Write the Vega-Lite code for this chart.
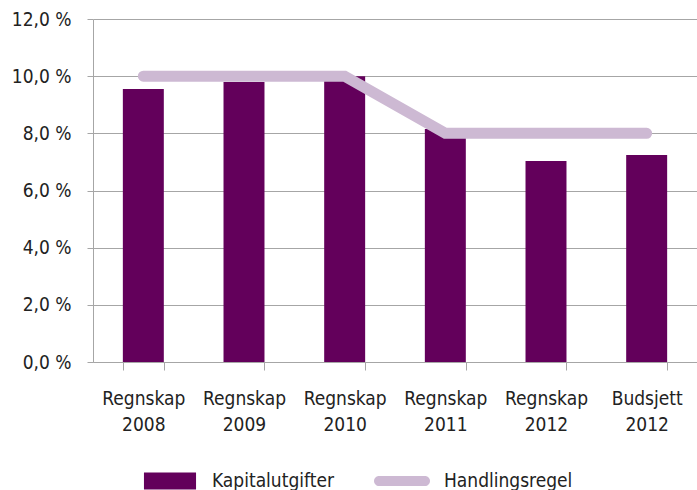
{
  "$schema": "https://vega.github.io/schema/vega-lite/v6.json",
  "width": 604,
  "height": 343,
  "autosize": {"type": "none"},
  "padding": {"left": 93, "top": 19, "right": 0, "bottom": 128},
  "background": "white",
  "config": {
    "view": {"stroke": null},
    "font": "DejaVu Sans Condensed",
    "axis": {
      "labelFont": "DejaVu Sans Condensed",
      "labelFontSize": 19,
      "labelColor": "#222222",
      "domainColor": "#a6a6a6",
      "tickColor": "#a6a6a6",
      "gridColor": "#a6a6a6",
      "title": null
    },
    "legend": {"labelFont": "DejaVu Sans Condensed"}
  },
  "data": {
    "values": [
      {"kat": "Regnskap 2008", "serie": "Kapitalutgifter", "verdi": 9.55},
      {"kat": "Regnskap 2009", "serie": "Kapitalutgifter", "verdi": 9.8},
      {"kat": "Regnskap 2010", "serie": "Kapitalutgifter", "verdi": 10.0},
      {"kat": "Regnskap 2011", "serie": "Kapitalutgifter", "verdi": 8.15},
      {"kat": "Regnskap 2012", "serie": "Kapitalutgifter", "verdi": 7.03},
      {"kat": "Budsjett 2012", "serie": "Kapitalutgifter", "verdi": 7.24},
      {"kat": "Regnskap 2008", "serie": "Handlingsregel", "verdi": 10.0},
      {"kat": "Regnskap 2009", "serie": "Handlingsregel", "verdi": 10.0},
      {"kat": "Regnskap 2010", "serie": "Handlingsregel", "verdi": 10.0},
      {"kat": "Regnskap 2011", "serie": "Handlingsregel", "verdi": 8.0},
      {"kat": "Regnskap 2012", "serie": "Handlingsregel", "verdi": 8.0},
      {"kat": "Budsjett 2012", "serie": "Handlingsregel", "verdi": 8.0}
    ]
  },
  "encoding": {
    "x": {
      "field": "kat",
      "type": "nominal",
      "sort": null,
      "scale": {"paddingInner": 0.593, "paddingOuter": 0.2965},
      "axis": {
        "labelAngle": 0,
        "tickBand": "extent",
        "tickSize": 8,
        "labelPadding": 19,
        "labelLineHeight": 26,
        "labelExpr": "split(datum.label, ' ')",
        "grid": false
      }
    },
    "y": {
      "field": "verdi",
      "type": "quantitative",
      "scale": {"domain": [0, 12], "nice": false},
      "axis": {
        "values": [0, 2, 4, 6, 8, 10, 12],
        "tickSize": 6,
        "labelPadding": 16,
        "grid": true,
        "labelExpr": "replace(format(datum.value, '.1f'), '.', ',') + ' %'"
      }
    },
    "color": {
      "field": "serie",
      "type": "nominal",
      "scale": {
        "domain": ["Kapitalutgifter", "Handlingsregel"],
        "range": ["#63005b", "#cdb9d3"]
      },
      "legend": {
        "title": null,
        "orient": "none",
        "legendX": 49,
        "legendY": 434,
        "direction": "horizontal",
        "symbolSize": 3136,
        "labelFontSize": 19,
        "labelColor": "#222222",
        "labelOffset": 14,
        "columnPadding": 40,
        "encode": {
          "symbols": {
            "update": {
              "shape": {"signal": "datum.value === 'Kapitalutgifter' ? 'M-0.93,-0.3H0.93V0.3H-0.93Z' : 'M-0.82,-0.18H0.82A0.18,0.18 0 0 1 0.82,0.18H-0.82A0.18,0.18 0 0 1 -0.82,-0.18Z'"},
              "fill": {"scale": "color", "field": "value"},
              "stroke": {"value": "transparent"},
              "strokeWidth": {"value": 0},
              "opacity": {"value": 1},
              "fillOpacity": {"value": 1}
            }
          }
        }
      }
    }
  },
  "layer": [
    {
      "transform": [{"filter": "datum.serie === 'Kapitalutgifter'"}],
      "mark": {"type": "bar"}
    },
    {
      "transform": [{"filter": "datum.serie === 'Handlingsregel'"}],
      "mark": {"type": "line", "strokeWidth": 11, "strokeCap": "round", "strokeJoin": "miter"}
    }
  ]
}
